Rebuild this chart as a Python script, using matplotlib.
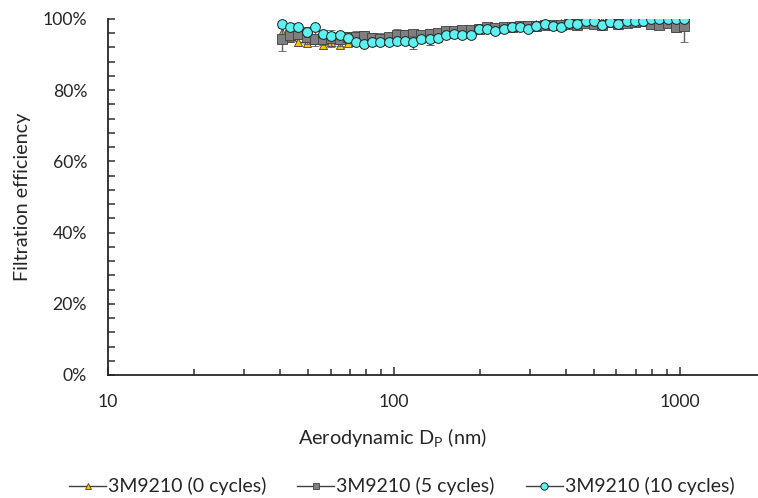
import matplotlib
matplotlib.use('Agg')
import matplotlib.pyplot as plt
from matplotlib.lines import Line2D
from matplotlib.ticker import FuncFormatter, MultipleLocator, LogLocator, NullFormatter

plt.rcParams['font.family'] = ['Lato', 'DejaVu Sans']
plt.rcParams['mathtext.fontset'] = 'custom'
plt.rcParams['mathtext.rm'] = 'Lato'

# particle diameters (nm)
diameter = [40.6, 43.4, 46.3, 49.5, 52.9, 56.5, 60.3, 64.5, 68.9, 73.6,
            78.6, 84.0, 89.7, 95.8, 102.4, 109.4, 116.8, 124.8, 133.3, 142.4,
            152.2, 162.5, 173.6, 185.5, 198.2, 211.7, 226.2, 241.6, 258.1, 275.7,
            294.6, 314.7, 336.2, 359.1, 383.6, 409.8, 437.8, 467.7, 499.6, 533.8,
            570.2, 609.2, 650.8, 695.2, 742.7, 793.4, 847.6, 905.5, 967.3, 1033.4]

# filtration efficiency (%)
eff_0 = [96.4, 94.6, 93.4, 93.3, 94.2, 92.6, 93.5, 92.8, 93.2, 93.6,
         93.9, 94.0, 94.2, 95.3, 94.8, 95.0, 95.2, 95.5, 95.8, 96.2,
         96.3, 96.6, 96.9, 97.1, 97.3, 97.4, 97.6, 97.8, 98.0, 98.1,
         98.3, 98.5, 98.6, 98.7, 98.8, 98.9, 99.7, 99.0, 99.2, 99.3,
         99.8, 99.4, 99.5, 99.5, 99.6, 99.7, 99.7, 99.8, 99.8, 99.8]
err_0 = [1.2, 1.0, 1.0, 1.0, 1.0, 1.0, 1.0, 1.0, 0.9, 0.9,
         0.9, 0.9, 0.9, 0.8, 0.8, 0.8, 0.8, 0.8, 0.7, 0.7,
         0.7, 0.7, 0.6, 0.6, 0.6, 0.6, 0.5, 0.5, 0.5, 0.5,
         0.5, 0.5, 0.4, 0.4, 0.4, 0.4, 0.4, 0.4, 0.4, 0.4,
         0.4, 0.4, 0.3, 0.3, 0.3, 0.3, 0.3, 0.3, 0.3, 0.3]

eff_5 = [94.3, 95.5, 95.8, 95.0, 94.5, 94.3, 94.6, 94.4, 94.8, 95.0,
         95.2, 94.6, 94.5, 94.8, 95.5, 95.6, 95.8, 95.6, 95.8, 96.0,
         96.5, 96.6, 96.9, 97.0, 97.2, 97.6, 97.4, 97.8, 97.6, 97.9,
         98.0, 97.9, 98.2, 98.3, 98.4, 98.6, 98.3, 98.8, 98.6, 98.4,
         99.0, 98.6, 98.8, 99.2, 99.4, 98.6, 98.3, 98.8, 97.6, 98.1]
err_5 = [3.3, 1.8, 1.5, 2.0, 2.2, 1.5, 2.4, 2.0, 1.6, 1.5,
         1.5, 1.5, 1.5, 1.2, 1.6, 1.2, 1.2, 1.0, 1.5, 1.0,
         1.0, 1.0, 0.9, 0.9, 0.8, 0.8, 0.8, 0.8, 0.8, 0.8,
         0.7, 0.7, 0.7, 0.7, 0.7, 0.6, 0.6, 0.6, 0.6, 0.6,
         0.6, 0.6, 0.6, 0.6, 0.6, 0.6, 1.0, 0.8, 1.2, 4.7]

eff_10 = [98.5, 97.8, 97.7, 96.3, 97.6, 95.8, 95.2, 95.4, 94.6, 93.5,
          93.0, 93.4, 93.6, 93.6, 93.8, 93.8, 93.4, 94.3, 94.3, 94.6,
          95.5, 95.7, 95.5, 95.5, 97.1, 97.1, 96.6, 97.2, 97.7, 97.6,
          97.1, 98.1, 98.5, 98.1, 97.8, 98.8, 98.6, 99.5, 99.5, 98.3,
          99.0, 98.6, 99.3, 99.4, 99.4, 99.9, 100.0, 100.0, 100.0, 100.0]
err_10 = [1.0, 1.0, 1.0, 1.5, 1.0, 1.2, 1.0, 1.0, 0.9, 1.0,
          1.0, 0.9, 0.9, 0.9, 0.9, 0.9, 1.8, 1.0, 1.5, 1.0,
          0.8, 0.8, 0.8, 0.8, 0.7, 0.7, 0.7, 0.7, 0.6, 0.6,
          0.6, 0.6, 0.5, 0.5, 0.5, 0.5, 0.5, 0.5, 0.5, 0.5,
          0.5, 0.5, 0.4, 0.4, 0.4, 0.4, 0.4, 0.4, 0.4, 0.4]

labels = ['3M9210 (0 cycles)', '3M9210 (5 cycles)', '3M9210 (10 cycles)']

fig = plt.figure(figsize=(7.58, 4.98), dpi=100)
ax = fig.add_axes([0.1425, 0.247, 0.8575, 0.715])

line_col = '#404040'
err_col = '#606060'
styles = [
    dict(marker='^', ms=6, mfc='#FFC000', mec='#404040', mew=0.6),
    dict(marker='s', ms=6.5, mfc='#7F7F7F', mec='#404040', mew=0.6),
    dict(marker='o', ms=7, mfc='#5CF2F2', mec='#202020', mew=0.7),
]

for i, (y, e) in enumerate([(eff_0, err_0), (eff_5, err_5), (eff_10, err_10)]):
    ax.errorbar(diameter, y, yerr=e, color=line_col, lw=1.0,
                ecolor=err_col, elinewidth=1.0, capsize=3, capthick=1.0,
                zorder=2 + i, **styles[i])

ax.set_xscale('log')
ax.set_xlim(10, 1875)
ax.set_ylim(0, 100)

ax.xaxis.set_major_locator(LogLocator(base=10))
ax.xaxis.set_minor_locator(LogLocator(base=10, subs=range(2, 10)))
ax.xaxis.set_minor_formatter(NullFormatter())
ax.xaxis.set_major_formatter(FuncFormatter(lambda v, p: f'{v:g}'))
ax.yaxis.set_major_locator(MultipleLocator(20))
ax.yaxis.set_minor_locator(MultipleLocator(4))
ax.yaxis.set_major_formatter(FuncFormatter(lambda v, p: f'{v:.0f}%'))

ax.tick_params(axis='both', which='both', direction='in', labelsize=12.7,
               width=1.2, colors='#404040', labelcolor='#262626')
ax.tick_params(axis='x', which='major', length=6, pad=14)
ax.tick_params(axis='x', which='minor', length=4)
ax.tick_params(axis='y', which='major', length=5, pad=15)
ax.tick_params(axis='y', which='minor', length=5)

for side in ['top', 'right']:
    ax.spines[side].set_visible(False)
for side in ['left', 'bottom']:
    ax.spines[side].set_color('#262626')
    ax.spines[side].set_linewidth(1.3)

ax.set_ylabel('Filtration efficiency', fontsize=14.2, color='#262626')
ax.yaxis.set_label_coords(-0.118, 0.5)
ax.set_xlabel(r'Aerodynamic D$_\mathrm{P}$ (nm)', fontsize=14.3, color='#262626')
ax.xaxis.set_label_coords(0.438, -0.145)

handles = [Line2D([], [], color=line_col, lw=1.0, **dict(styles[i], ms=styles[i]['ms'] * 0.75))
           for i in range(3)]
leg = fig.legend(handles, labels, loc='lower center', bbox_to_anchor=(0.53, -0.03), ncol=3,
                 frameon=False, fontsize=14, handlelength=1.9, columnspacing=1.6,
                 handletextpad=0.1)
for t in leg.get_texts():
    t.set_color('#262626')

fig.savefig('out.png', dpi=100)
